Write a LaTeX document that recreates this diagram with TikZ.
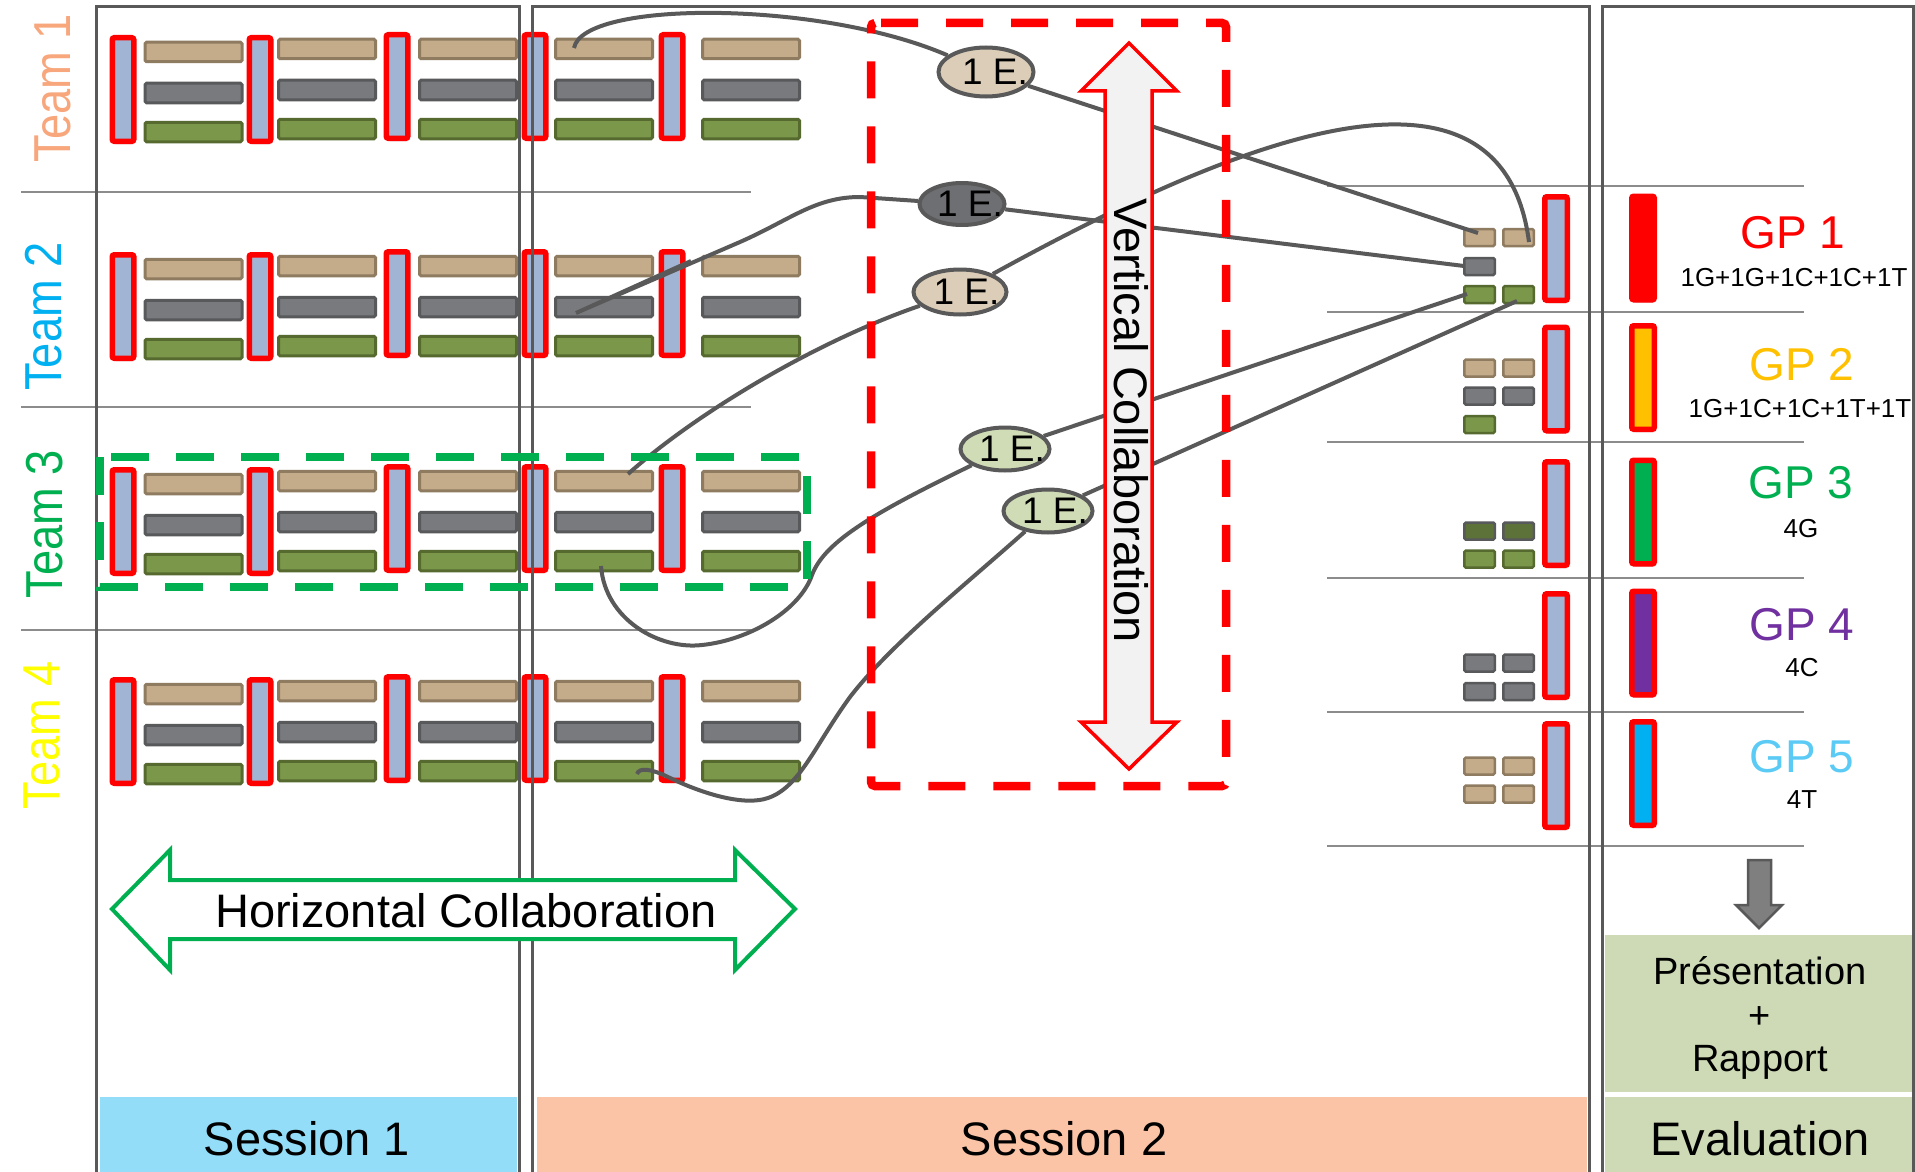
\documentclass[tikz,border=0pt]{standalone}
\usepackage{fontspec}
\setmainfont{Liberation Sans}
\usetikzlibrary{shapes.geometric,shadows}
\definecolor{framegray}{HTML}{595959}
\definecolor{sepgray}{HTML}{8C8C8C}
\definecolor{tanfill}{HTML}{C4AB8A}
\definecolor{tanedge}{HTML}{8E7B60}
\definecolor{greyfill}{HTML}{797A7E}
\definecolor{greyedge}{HTML}{58595B}
\definecolor{grnfill}{HTML}{7A974A}
\definecolor{grnedge}{HTML}{566A30}
\definecolor{dkgrnfill}{HTML}{5D7238}
\definecolor{vfill}{HTML}{A2B4D3}
\definecolor{ellTan}{HTML}{DBCDB7}
\definecolor{ellGrey}{HTML}{6E6F73}
\definecolor{ellGrn}{HTML}{CFDCB6}
\definecolor{sessA}{HTML}{93DDF8}
\definecolor{sessB}{HTML}{FCC4A7}
\definecolor{evalgrn}{HTML}{CDDAB5}
\definecolor{offgreen}{HTML}{00B050}
\definecolor{teamA}{HTML}{F8A67C}
\definecolor{teamB}{HTML}{00B0F0}
\definecolor{teamD}{HTML}{FFFF00}
\definecolor{gpB}{HTML}{FFC000}
\definecolor{gpD}{HTML}{7030A0}
\definecolor{gpE}{HTML}{5BCBF5}
\definecolor{gpEfill}{HTML}{00B0F0}
\definecolor{arrowgray}{HTML}{7F7F7F}
\definecolor{arrowfill}{HTML}{F2F2F2}
\newcommand{\setfs}[1]{\fontsize{#1pt}{#1pt}\selectfont}
\begin{document}
\begin{tikzpicture}[x=1pt,y=-1pt,
  conn/.style={draw=framegray, line width=4pt},
  sepline/.style={draw=sepgray, line width=2.5pt},
  framest/.style={draw=framegray, line width=3pt},
  hbar/.style={draw, line width=3pt, rounded corners=1.5pt, inner sep=0pt, outer sep=0pt, minimum width=97pt, minimum height=19.5pt},
  tanbar/.style={hbar, fill=tanfill, draw=tanedge},
  greybar/.style={hbar, fill=greyfill, draw=greyedge},
  greenbar/.style={hbar, fill=grnfill, draw=grnedge},
  sbar/.style={draw, line width=2.5pt, rounded corners=1.5pt, inner sep=0pt, minimum width=30.5pt, minimum height=17pt},
  stan/.style={sbar, fill=tanfill, draw=tanedge},
  sgrey/.style={sbar, fill=greyfill, draw=greyedge},
  sgreen/.style={sbar, fill=grnfill, draw=grnedge},
  sdark/.style={sbar, fill=dkgrnfill, draw=greyedge},
  vbarst/.style={draw=red, fill=vfill, line width=5.5pt, rounded corners=2pt, inner sep=0pt, minimum width=21.5pt, minimum height=103.5pt, drop shadow={shadow xshift=2pt, shadow yshift=-3pt, opacity=0.25}},
  gpbar/.style={draw=red, line width=5.5pt, rounded corners=2pt, inner sep=0pt, minimum width=22.5pt, minimum height=103.5pt, drop shadow={shadow xshift=2pt, shadow yshift=-3pt, opacity=0.25}},
  ell/.style={ellipse, draw=framegray, line width=4pt, inner sep=0pt, font=\setfs{37}},
  txt/.style={inner sep=0pt},
  teamlbl/.style={inner sep=0pt, rotate=90, xscale=0.87, font=\setfs{52}}]

\fill[white] (0,0) rectangle (1915,1172);
\useasboundingbox (0,0) rectangle (1915,1172);
\clip (0,0) rectangle (1915,1172);

% separators
\foreach \yy in {192,407,630} \draw[sepline] (21,\yy) -- (751,\yy);
\foreach \yy in {186,312,442,578,712,846} \draw[sepline] (1327,\yy) -- (1804,\yy);

% bottom boxes
\fill[sessA] (100,1097) rectangle (517,1180);
\fill[sessB] (537,1097) rectangle (1587,1180);
\fill[evalgrn] (1605,935) rectangle (1920,1092);
\fill[evalgrn] (1605,1097) rectangle (1920,1180);

% team rows
\foreach \k/\T in {1/35, 2/252, 3/467, 4/677} {
  \foreach \i/\x in {1/193.5, 2/327, 3/468, 4/604, 5/751} {
    \pgfmathsetmacro\dy{\i>1 ? -3 : 0}
    \node[tanbar] (t\k h\i a) at (\x, \T+17+\dy) {};
    \node[greybar] (t\k h\i b) at (\x, \T+58+\dy) {};
    \node[greenbar] (t\k h\i c) at (\x, \T+97+\dy) {};
  }
  \foreach \i/\x in {1/123, 2/260, 3/397, 4/535, 5/672} {
    \pgfmathsetmacro\dy{\i>2 ? -3 : 0}
    \node[vbarst] (t\k v\i) at (\x, \T+54.5+\dy) {};
  }
}

% GP column small bars
\node[stan] (g1ta) at (1479.5,237.5) {};
\node[stan] (g1tb) at (1518.5,237.5) {};
\node[sgrey] (g1ga) at (1479.5,266.5) {};
\node[sgreen] (g1na) at (1479.5,294.5) {};
\node[sgreen] (g1nb) at (1518.5,294.5) {};
\node[stan] (g2ta) at (1479.5,368) {};
\node[stan] (g2tb) at (1518.5,368) {};
\node[sgrey] (g2ga) at (1479.5,396) {};
\node[sgrey] (g2gb) at (1518.5,396) {};
\node[sgreen] (g2na) at (1479.5,424.5) {};
\node[sdark] (g3da) at (1479.5,531) {};
\node[sdark] (g3db) at (1518.5,531) {};
\node[sgreen] (g3na) at (1479.5,559) {};
\node[sgreen] (g3nb) at (1518.5,559) {};
\node[sgrey] (g4ga) at (1479.5,663) {};
\node[sgrey] (g4gb) at (1518.5,663) {};
\node[sgrey] (g4gc) at (1479.5,691.5) {};
\node[sgrey] (g4gd) at (1518.5,691.5) {};
\node[stan] (g5ta) at (1479.5,766) {};
\node[stan] (g5tb) at (1518.5,766) {};
\node[stan] (g5tc) at (1479.5,794) {};
\node[stan] (g5td) at (1518.5,794) {};

% GP vertical bars
\node[gpbar, fill=vfill] (gv1) at (1556,248.5) {};
\node[gpbar, fill=vfill] (gv2) at (1556,379) {};
\node[gpbar, fill=vfill] (gv3) at (1556,513.5) {};
\node[gpbar, fill=vfill] (gv4) at (1556,645.5) {};
\node[gpbar, fill=vfill] (gv5) at (1556,775.5) {};
\node[gpbar, fill=red] (gc1) at (1643,248) {};
\node[gpbar, fill=gpB] (gc2) at (1643,377.5) {};
\node[gpbar, fill=offgreen] (gc3) at (1643,512) {};
\node[gpbar, fill=gpD] (gc4) at (1643,643) {};
\node[gpbar, fill=gpEfill] (gc5) at (1643,773.5) {};

% frames
\draw[framest] (96,7) rectangle (519,1190);
\draw[framest] (532,7) rectangle (1589,1190);
\draw[framest] (1602,7) rectangle (1913,1190);

% connector end points
\coordinate (p1) at (574,48);
\coordinate (p2) at (576,313);
\coordinate (p2b) at (691,261);
\coordinate (p3) at (628,474);
\coordinate (p4) at (601,566);
\coordinate (p5) at (637,774);
\coordinate (g1a) at (1478,233);
\coordinate (g1b) at (1529,242);
\coordinate (g1c) at (1464,266);
\coordinate (g1d) at (1467,294);
\coordinate (g1e) at (1517,301);

% ellipses
\node[ell, fill=ellTan, minimum width=95pt, minimum height=49pt] (e1) at (986,72) {\makebox[0pt]{\hspace*{18pt}1 E.}};
\node[ell, fill=ellGrey, minimum width=85pt, minimum height=42pt] (e2) at (962,204) {\makebox[0pt]{\hspace*{16pt}1 E.}};
\node[ell, fill=ellTan, minimum width=93pt, minimum height=45pt] (e3) at (960,292) {\makebox[0pt]{\hspace*{13pt}1 E.}};
\node[ell, fill=ellGrn, minimum width=89pt, minimum height=43pt] (e4) at (1005,449) {\makebox[0pt]{\hspace*{14pt}1 E.}};
\node[ell, fill=ellGrn, minimum width=89pt, minimum height=43pt] (e5) at (1048,511) {\makebox[0pt]{\hspace*{14pt}1 E.}};

% connectors
\draw[conn] (p1) .. controls (583,0) and (820,0) .. (e1);
\draw[conn] (e1) -- (g1a);
\draw[conn] (p2b) -- (p2) -- (740,242) .. controls (790,220) and (815,197) .. (860,197) -- (e2);
\draw[conn] (e2) -- (g1c);
\draw[conn] (p3) .. controls (700,410) and (820,340) .. (e3);
\draw[conn] (e3) .. controls (1200,160) and (1500,20) .. (g1b);
\draw[conn] (p4) .. controls (605,620) and (660,650) .. (702,645) .. controls (750,640) and (800,610) .. (812,575) .. controls (825,540) and (880,510) .. (e4);
\draw[conn] (e4) -- (g1d);
\draw[conn] (e5) -- (g1e);
\draw[conn] (p5) .. controls (639,767) and (652,769) .. (668,777) .. controls (705,795) and (745,806) .. (768,798) .. controls (800,787) and (815,745) .. (850,697) .. controls (890,645) and (965,585) .. (e5);

% vertical collaboration arrow
\draw[red, fill=arrowfill, line width=3.5pt, line join=miter]
  (1129,43) -- (1177,91) -- (1152,91) -- (1152,722) -- (1177,722) -- (1129,769)
  -- (1081,722) -- (1105,722) -- (1105,91) -- (1081,91) -- cycle;
\node[txt, rotate=-90, font=\setfs{47}] (vcol) at (1131,421) {Vertical Collaboration};

% dashed boxes
\draw[red, line width=8.5pt, dash pattern=on 37pt off 28pt, dash phase=59pt, rounded corners=4pt]
  (871,23) -- (1226,23) -- (1226,786) -- (871,786) -- cycle;
\draw[offgreen, line width=8pt, dash pattern=on 38pt off 27pt, dash phase=54pt]
  (100,457) -- (807,457) -- (807,587) -- (100,587) -- cycle;

% horizontal collaboration arrow
\draw[offgreen, fill=white, line width=4pt, line join=miter]
  (112,909) -- (170,850) -- (170,880) -- (735,880) -- (735,850) -- (795,909)
  -- (735,970) -- (735,939) -- (170,939) -- (170,970) -- cycle;
\node[txt, font=\setfs{47}] (hcol) at (466,911) {Horizontal Collaboration};

% evaluation down arrow
\draw[framegray, fill=arrowgray, line width=2.5pt, line join=miter]
  (1748,860) -- (1771,860) -- (1771,905) -- (1782,905) -- (1759,928) -- (1736,905) -- (1748,905) -- cycle;

% team labels
\node[teamlbl, text=teamA] (lt1) at (52.5,88) {Team 1};
\node[teamlbl, text=teamB] (lt2) at (43.5,316.5) {Team 2};
\node[teamlbl, text=offgreen] (lt3) at (45,524) {Team 3};
\node[teamlbl, text=teamD] (lt4) at (42,735) {Team 4};

% GP labels
\node[txt, font=\setfs{46}, text=red] (gp1) at (1793,233) {GP 1};
\node[txt, font=\setfs{26}] (gp1s) at (1794,278) {1G+1G+1C+1C+1T};
\node[txt, font=\setfs{46}, text=gpB] (gp2) at (1802,365) {GP 2};
\node[txt, font=\setfs{26}] (gp2s) at (1800,409) {1G+1C+1C+1T+1T};
\node[txt, font=\setfs{46}, text=offgreen] (gp3) at (1801,483) {GP 3};
\node[txt, font=\setfs{26}] (gp3s) at (1801,529) {4G};
\node[txt, font=\setfs{46}, text=gpD] (gp4) at (1802,625) {GP 4};
\node[txt, font=\setfs{26}] (gp4s) at (1802,668) {4C};
\node[txt, font=\setfs{46}, text=gpE] (gp5) at (1802,757) {GP 5};
\node[txt, font=\setfs{26}] (gp5s) at (1802,800) {4T};

% evaluation texts
\node[txt, anchor=base, font=\setfs{38}] (pres) at (1760,984) {Présentation};
\node[txt, anchor=base, font=\setfs{38}] (plus) at (1760,1028) {+};
\node[txt, anchor=base, font=\setfs{38}] (rapp) at (1760,1071) {Rapport};
\node[txt, font=\setfs{47}] (evl) at (1760,1139) {Evaluation};
\node[txt, font=\setfs{47}] (ses1) at (307,1139) {Session 1};
\node[txt, font=\setfs{47}] (ses2) at (1064,1139) {Session 2};
\end{tikzpicture}
\end{document}
